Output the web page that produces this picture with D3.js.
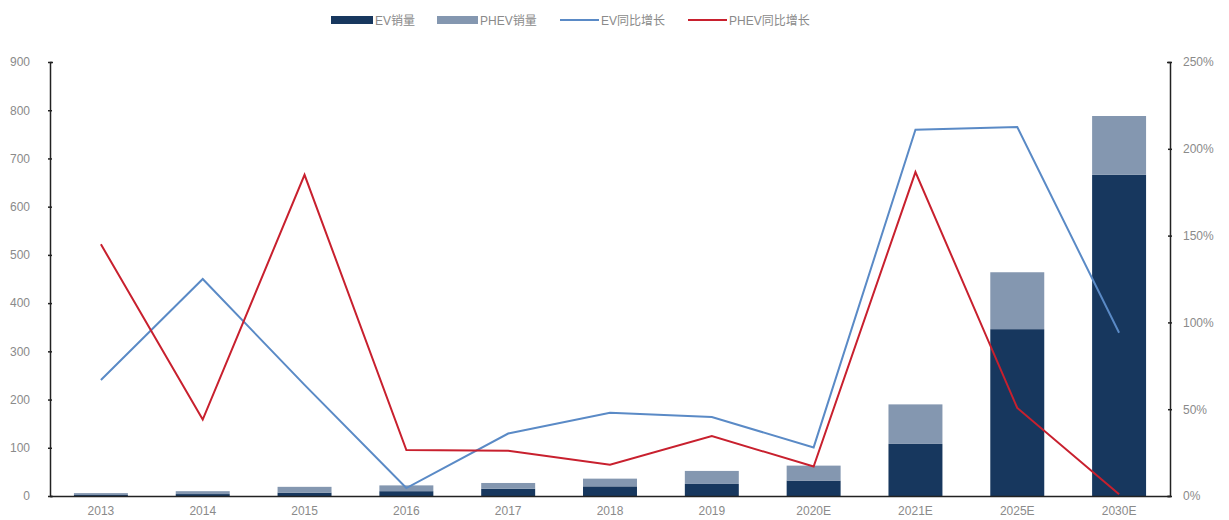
<!DOCTYPE html>
<html>
<head>
<meta charset="utf-8">
<script src="https://cdn.jsdelivr.net/npm/d3@7"></script>
<style>
  body { margin: 0; background: #fff; }
  svg { display: block; }
  text { font-family: "Liberation Sans", "Noto Sans CJK SC", sans-serif; }
</style>
</head>
<body>
<svg id="chart" width="1229" height="520"></svg>
<script>
const categories = ["2013","2014","2015","2016","2017","2018","2019","2020E","2021E","2025E","2030E"];
const evSales   = [2, 4, 7, 10, 15, 20, 25, 32, 108, 346, 666];
const phevSales = [4, 6, 12, 12, 12, 16, 27, 31, 82, 118, 122];
const evGrowth   = [66.8, 125, 64, 4.6, 36, 48, 45.5, 28, 211, 212.5, 94];
const phevGrowth = [145, 44, 185, 26.5, 26, 18, 34.5, 17, 186.6, 50.7, 1];
const leftTicks = [0,100,200,300,400,500,600,700,800,900];
const rightTicks = [0,50,100,150,200,250];
const legendLabels = ["EV销量","PHEV销量","EV同比增长","PHEV同比增长"];

const colors = { ev: "#17375E", phev: "#8497B0", evLine: "#5A8AC6", phevLine: "#C8202E", axis: "#222", text: "#8a8a8a" };

const svg = d3.select("#chart");
const mLeft = 50, mRight = 1170, mTop = 62, mBottom = 496;

const x = d3.scaleBand().domain(categories).range([mLeft, mRight]).paddingInner(0.47).paddingOuter(0.235);
const xc = d3.scalePoint().domain(categories).range([mLeft, mRight]).padding(0.5);
const yL = d3.scaleLinear().domain([0, 900]).range([mBottom, mTop]);
const yR = d3.scaleLinear().domain([0, 250]).range([mBottom, mTop]);

// bars
const stacked = categories.map((c, i) => ({ c, ev: evSales[i], phev: phevSales[i] }));
svg.append("g").selectAll("rect").data(stacked).join("rect")
  .attr("x", d => x(d.c)).attr("width", x.bandwidth())
  .attr("y", d => yL(d.ev)).attr("height", d => yL(0) - yL(d.ev))
  .attr("fill", colors.ev);
svg.append("g").selectAll("rect").data(stacked).join("rect")
  .attr("x", d => x(d.c)).attr("width", x.bandwidth())
  .attr("y", d => yL(d.ev + d.phev)).attr("height", d => yL(d.ev) - yL(d.ev + d.phev))
  .attr("fill", colors.phev);

// lines
const lineGen = d3.line().x((d, i) => xc(categories[i])).y(d => yR(d));
svg.append("path").datum(evGrowth).attr("d", lineGen)
  .attr("fill", "none").attr("stroke", colors.evLine).attr("stroke-width", 2);
svg.append("path").datum(phevGrowth).attr("d", lineGen)
  .attr("fill", "none").attr("stroke", colors.phevLine).attr("stroke-width", 2);

// axes
const gL = svg.append("g").attr("transform", `translate(${mLeft},0)`)
  .call(d3.axisLeft(yL).tickValues(leftTicks).tickSize(-3).tickPadding(20));
const gR = svg.append("g").attr("transform", `translate(${mRight},0)`)
  .call(d3.axisRight(yR).tickValues(rightTicks).tickSize(-3).tickPadding(13).tickFormat(d => d + "%"));
const gB = svg.append("g").attr("transform", `translate(0,${mBottom})`)
  .call(d3.axisBottom(x).tickSize(0).tickPadding(10));
[gL, gR, gB].forEach(g => {
  g.select(".domain").attr("stroke", colors.axis).attr("stroke-width", 1.5);
  g.selectAll(".tick line").attr("stroke", colors.axis).attr("stroke-width", 1.5);
  g.selectAll("text").attr("fill", colors.text).style("font-size", "12px").style("font-family", "'Liberation Sans', sans-serif");
});
gR.selectAll(".tick line").attr("x1", -2).attr("x2", 2);
gL.selectAll(".tick line").attr("x1", -2).attr("x2", 2);

// legend
const legend = svg.append("g");
const items = [
  { label: legendLabels[0], type: "rect", color: colors.ev, x: 331, w: 42 },
  { label: legendLabels[1], type: "rect", color: colors.phev, x: 437, w: 41 },
  { label: legendLabels[2], type: "line", color: colors.evLine, x: 560, w: 39 },
  { label: legendLabels[3], type: "line", color: colors.phevLine, x: 688, w: 39 }
];
items.forEach(it => {
  if (it.type === "rect") {
    legend.append("rect").attr("x", it.x).attr("y", 16).attr("width", it.w).attr("height", 8).attr("fill", it.color);
  } else {
    legend.append("line").attr("x1", it.x).attr("x2", it.x + it.w).attr("y1", 20).attr("y2", 20)
      .attr("stroke", it.color).attr("stroke-width", 2);
  }
  legend.append("text").attr("x", it.x + it.w + 2).attr("y", 24.5)
    .attr("fill", colors.text).style("font-size", "12px").text(it.label);
});
</script>
</body>
</html>
